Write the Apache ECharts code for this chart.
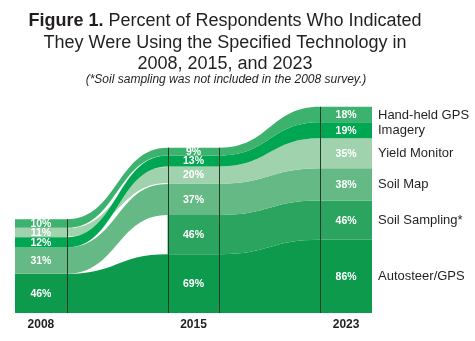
<!DOCTYPE html>
<html>
<head>
<meta charset="utf-8">
<script src="https://cdn.jsdelivr.net/npm/echarts@6/dist/echarts.min.js"></script>
<style>
html,body{margin:0;padding:0;background:#fff;}
#chart{width:475px;height:341px;}
</style>
</head>
<body>
<div id="chart"></div>
<script>
// ---- data ----
const years = ['2008', '2015', '2023'];
const techs = ['Autosteer/GPS', 'Soil Sampling*', 'Soil Map', 'Yield Monitor', 'Imagery', 'Hand-held GPS'];
const autosteer = [46, 69, 86];
const soilSampling = [null, 46, 46];   // not included in 2008 survey
const soilMap = [31, 37, 38];
const yieldMonitor = [11, 20, 35];
const imagery = [12, 13, 19];
const handheldGps = [10, 9, 18];
// stacking order (bottom -> top) for each year
const order2008 = ['Autosteer/GPS', 'Soil Sampling*', 'Soil Map', 'Imagery', 'Yield Monitor', 'Hand-held GPS'];
const order2015 = ['Autosteer/GPS', 'Soil Sampling*', 'Soil Map', 'Yield Monitor', 'Imagery', 'Hand-held GPS'];
const order2023 = ['Autosteer/GPS', 'Soil Sampling*', 'Soil Map', 'Yield Monitor', 'Imagery', 'Hand-held GPS'];

const valuesByTech = {
  'Autosteer/GPS': autosteer,
  'Soil Sampling*': soilSampling,
  'Soil Map': soilMap,
  'Yield Monitor': yieldMonitor,
  'Imagery': imagery,
  'Hand-held GPS': handheldGps
};
const orders = [order2008, order2015, order2023];
const colors = {
  'Autosteer/GPS': '#0d9a4c',
  'Soil Sampling*': '#2ba45f',
  'Soil Map': '#65b984',
  'Yield Monitor': '#a0d2ae',
  'Imagery': '#00a651',
  'Hand-held GPS': '#3db26e'
};
const H = 0.17; // half block width (axis units)

// compute stack bounds per year
const bounds = orders.map((ord, i) => {
  const b = {}; let acc = 0;
  ord.forEach(t => {
    const v = valuesByTech[t][i];
    if (v == null) return;
    b[t] = [acc, acc + v];
    acc += v;
  });
  b.__total = acc;
  return b;
});
const totals = bounds.map(b => b.__total);

// draw order (later on top)
const drawOrder = ['Autosteer/GPS', 'Soil Sampling*', 'Soil Map', 'Yield Monitor', 'Imagery', 'Hand-held GPS'];

function bandPath(api, tech) {
  const yrs = [];
  years.forEach((y, i) => { if (valuesByTech[tech][i] != null) yrs.push(i); });
  const P = (x, y) => { const p = api.coord([x, y]); return p[0].toFixed(2) + ' ' + p[1].toFixed(2); };
  const top = yrs.map(i => bounds[i][tech][1]);
  const bot = yrs.map(i => bounds[i][tech][0]);
  let d = 'M' + P(yrs[0] - H, top[0]) + ' L' + P(yrs[0] + H, top[0]);
  for (let j = 1; j < yrs.length; j++) {
    const a = yrs[j - 1], b = yrs[j];
    const xm = ((a + H) + (b - H)) / 2;
    d += ' C' + P(xm, top[j - 1]) + ' ' + P(xm, top[j]) + ' ' + P(b - H, top[j]) + ' L' + P(b + H, top[j]);
  }
  const n = yrs.length - 1;
  d += ' L' + P(yrs[n] + H, bot[n]) + ' L' + P(yrs[n] - H, bot[n]);
  for (let j = n; j >= 1; j--) {
    const a = yrs[j - 1], b = yrs[j];
    const xm = ((a + H) + (b - H)) / 2;
    d += ' C' + P(xm, bot[j]) + ' ' + P(xm, bot[j - 1]) + ' ' + P(a + H, bot[j - 1]) + ' L' + P(a - H, bot[j - 1]);
  }
  return d + ' Z';
}

function transitionEdges(api, tech, from, to) {
  const P = (x, y) => { const p = api.coord([x, y]); return p[0].toFixed(2) + ' ' + p[1].toFixed(2); };
  const xm = ((from + H) + (to - H)) / 2;
  let d = '';
  [0, 1].forEach(e => {
    const y0 = bounds[from][tech][e], y1 = bounds[to][tech][e];
    d += ' M' + P(from + H, y0) + ' C' + P(xm, y0) + ' ' + P(xm, y1) + ' ' + P(to - H, y1);
  });
  return d;
}

const font = '"Liberation Sans", Arial, Helvetica, sans-serif';
const chart = echarts.init(document.getElementById('chart'), null, { renderer: 'canvas' });

const option = {
  animation: false,
  backgroundColor: '#ffffff',
  grid: { left: 15, right: 103, top: 100, bottom: 28 },
  xAxis: {
    type: 'value', min: -H, max: 2 + H,
    axisLine: { show: false }, axisTick: { show: false }, splitLine: { show: false },
    axisLabel: {
      customValues: [0, 1, 2],
      formatter: v => years[Math.round(v)],
      fontFamily: font, fontWeight: 'bold', fontSize: 12, color: '#231f20', margin: 6
    }
  },
  yAxis: { type: 'value', min: 0, max: 250, show: false },
  graphic: [
    { type: 'text', x: 225, y: 21, style: { text: '{b|Figure 1.} Percent of Respondents Who Indicated', rich: { b: { fontWeight: 'bold', fontSize: 18, fontFamily: font, fill: '#231f20' } }, font: '18px ' + font, fill: '#231f20', align: 'center', verticalAlign: 'middle' } },
    { type: 'text', x: 225, y: 43, style: { text: 'They Were Using the Specified Technology in', font: '18px ' + font, fill: '#231f20', align: 'center', verticalAlign: 'middle' } },
    { type: 'text', x: 225, y: 64.5, style: { text: '2008, 2015, and 2023', font: '18px ' + font, fill: '#231f20', align: 'center', verticalAlign: 'middle' } },
    { type: 'text', x: 226, y: 80, style: { text: '(*Soil sampling was not included in the 2008 survey.)', font: 'italic 12px ' + font, fill: '#231f20', align: 'center', verticalAlign: 'middle' } }
  ],
  series: [
    {
      type: 'custom', name: 'bands', z: 2, clip: false,
      data: drawOrder.map(t => ({ name: t, value: [1, 0] })),
      renderItem: (params, api) => {
        const tech = drawOrder[params.dataIndex];
        const children = [{ type: 'path', shape: { pathData: bandPath(api, tech) }, style: { fill: colors[tech] } }];
        if (tech === 'Yield Monitor') {
          children.push({ type: 'path', shape: { pathData: transitionEdges(api, tech, 0, 1) }, style: { fill: null, stroke: '#ffffff', lineWidth: 1.2 } });
        }
        return { type: 'group', children };
      }
    },
    {
      type: 'custom', name: 'dividers', z: 3, clip: false,
      data: years.map((y, i) => ({ name: y, value: [i, totals[i]] })),
      renderItem: (params, api) => {
        const i = params.dataIndex;
        const edges = [];
        if (i > 0) edges.push(i - H);
        if (i < years.length - 1) edges.push(i + H);
        return {
          type: 'group',
          children: edges.map(x => {
            const p0 = api.coord([x, 0]), p1 = api.coord([x, totals[i]]);
            const px = Math.round(p0[0]) + 0.5;
            return { type: 'line', shape: { x1: px, y1: p0[1], x2: px, y2: p1[1] }, style: { stroke: '#1f3d26', lineWidth: 1 } };
          })
        };
      }
    },
    {
      type: 'custom', name: 'labels', z: 4, clip: false,
      data: techs.map(t => ({ name: t, value: [1, 0] })),
      renderItem: (params, api) => {
        const tech = techs[params.dataIndex];
        const children = [];
        years.forEach((y, i) => {
          const v = valuesByTech[tech][i];
          if (v == null) return;
          const b = bounds[i][tech];
          const p = api.coord([i, (b[0] + b[1]) / 2]);
          children.push({ type: 'text', x: p[0], y: p[1] + 0.5, style: { text: v + '%', font: 'bold 10.5px ' + font, fill: '#ffffff', align: 'center', verticalAlign: 'middle' } });
        });
        const last = years.length - 1;
        const bl = bounds[last][tech];
        const q = api.coord([last + H, (bl[0] + bl[1]) / 2]);
        children.push({ type: 'text', x: q[0] + 6, y: q[1] + 0.5, style: { text: tech, font: '13px ' + font, fill: '#231f20', align: 'left', verticalAlign: 'middle' } });
        return { type: 'group', children };
      }
    }
  ]
};
chart.setOption(option);
</script>
</body>
</html>
